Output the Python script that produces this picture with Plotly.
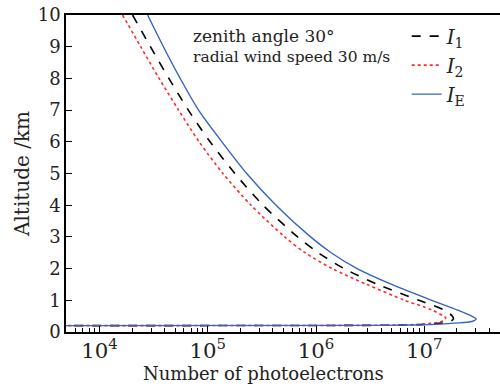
import plotly.graph_objects as go

# Altitude (km) and number of photoelectrons for each series
alt_I1 = [10, 9, 8, 7, 6, 5, 4, 3, 2.5, 2, 1.5, 1.0, 0.7, 0.5, 0.41, 0.33, 0.28, 0.24, 0.22, 0.21, 0.2]
num_I1 = [2.02e4, 2.95e4, 4.37e4, 6.61e4, 1.05e5, 1.78e5, 3.24e5, 6.76e5, 1.05e6, 1.82e6, 3.72e6, 8.91e6,
          1.51e7, 1.82e7, 1.86e7, 1.74e7, 1.45e7, 1.0e7, 6.31e6, 3.16e6, 1e3]

alt_I2 = [10, 9, 8, 7, 6, 5, 4, 3, 2.5, 2, 1.5, 1.0, 0.7, 0.5, 0.45, 0.36, 0.29, 0.24, 0.22, 0.21, 0.2]
num_I2 = [1.63e4, 2.40e4, 3.55e4, 5.37e4, 8.32e4, 1.38e5, 2.51e5, 5.13e5, 7.94e5, 1.41e6, 2.95e6, 6.61e6,
          1.17e7, 1.51e7, 1.58e7, 1.51e7, 1.26e7, 8.91e6, 5.62e6, 2.51e6, 1e3]

alt_IE = [10, 9, 8, 7, 6, 5, 4, 3, 2.5, 2, 1.5, 1.0, 0.7, 0.5, 0.41, 0.33, 0.28, 0.24, 0.22, 0.21, 0.2]
num_IE = [2.78e4, 3.89e4, 5.56e4, 8.22e4, 1.35e5, 2.29e5, 4.27e5, 8.91e5, 1.38e6, 2.40e6, 5.01e6, 1.17e7,
          2.0e7, 2.75e7, 3.02e7, 2.75e7, 1.91e7, 1.26e7, 7.94e6, 3.98e6, 1e3]

names = ["<i>I</i><sub>1</sub>", "<i>I</i><sub>2</sub>", "<i>I</i><sub>E</sub>"]
y_ticks = [0, 1, 2, 3, 4, 5, 6, 7, 8, 9, 10]

FONT = "DejaVu Serif"
TXT = "#222"

fig = go.Figure()
fig.add_trace(go.Scatter(x=num_I1, y=alt_I1, mode="lines", name=names[0],
                         line=dict(color="black", width=1.6, dash="dash", shape="spline", smoothing=0.8)))
fig.add_trace(go.Scatter(x=num_I2, y=alt_I2, mode="lines", name=names[1],
                         line=dict(color="#ff2a2a", width=1.6, dash="dot", shape="spline", smoothing=0.8)))
fig.add_trace(go.Scatter(x=num_IE, y=alt_IE, mode="lines", name=names[2],
                         line=dict(color="#3563c0", width=1.4, shape="spline", smoothing=0.8)))

fig.update_layout(
    width=500, height=389,
    margin=dict(l=66, r=0, t=15, b=57),
    paper_bgcolor="white", plot_bgcolor="white",
    font=dict(family=FONT, size=18, color=TXT),
    showlegend=True,
    legend=dict(x=0.785, y=0.995, xanchor="left", yanchor="top",
                bgcolor="rgba(0,0,0,0)", font=dict(size=20, family=FONT, color=TXT),
                itemwidth=30),
    annotations=[
        dict(text="zenith angle 30°", x=0.287, y=0.935, xref="paper", yref="paper",
             xanchor="left", yanchor="middle", showarrow=False,
             font=dict(size=17, family=FONT, color=TXT)),
        dict(text="radial wind speed 30 m/s", x=0.287, y=0.866, xref="paper", yref="paper",
             xanchor="left", yanchor="middle", showarrow=False,
             font=dict(size=15.5, family=FONT, color=TXT)),
        dict(text="Number of photoelectrons", x=0.456, y=-0.13, xref="paper", yref="paper",
             xanchor="center", yanchor="middle", showarrow=False,
             font=dict(size=18, family=FONT, color=TXT)),
    ],
)

fig.update_xaxes(
    type="log", range=[3.69, 7.70],
    showline=True, linecolor="black", linewidth=1.5, mirror=True,
    ticks="inside", ticklen=6, tickcolor="black", tickwidth=1,
    dtick=1, exponentformat="power", showgrid=False, zeroline=False,
    tickfont=dict(size=17, family=FONT, color=TXT),
    minor=dict(ticks="inside", ticklen=4, tickcolor="black", dtick="D1", showgrid=False),
)
fig.update_yaxes(
    range=[0, 10], tickvals=y_ticks,
    showline=True, linecolor="black", linewidth=1.5, mirror=False,
    ticks="inside", ticklen=6, tickcolor="black", tickwidth=1,
    showgrid=False, zeroline=False,
    tickfont=dict(size=18, family=FONT, color=TXT),
    title=dict(text="Altitude /km", font=dict(size=20, family=FONT, color=TXT), standoff=3),
)

fig.write_html("out.html")
